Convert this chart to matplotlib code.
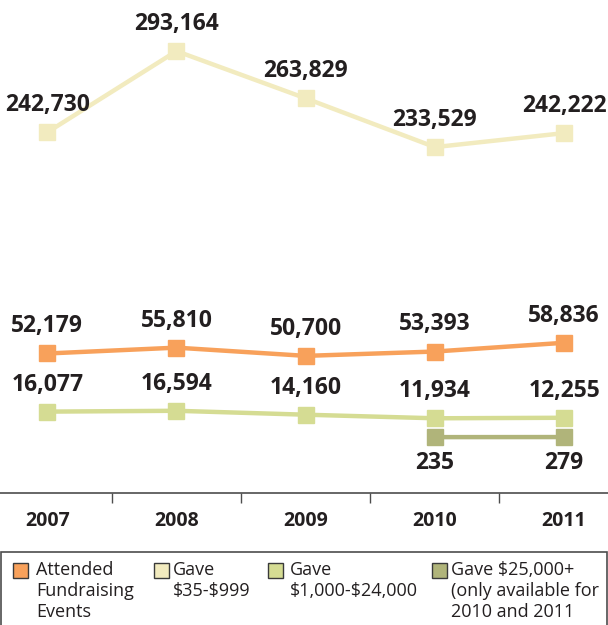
import matplotlib
matplotlib.use("Agg")
import matplotlib.pyplot as plt
from matplotlib.patches import Rectangle
import numpy as np

plt.rcParams['font.family'] = ['Open Sans', 'DejaVu Sans']

years = ['2007', '2008', '2009', '2010', '2011']
attended = [52179, 55810, 50700, 53393, 58836]
gave_small = [242730, 293164, 263829, 233529, 242222]
gave_mid = [16077, 16594, 14160, 11934, 12255]
gave_big = [235, 279]          # only 2010 and 2011
big_years = [3, 4]

orange = '#F8A15B'
cream = '#F2EBBF'
lgreen = '#D5DC93'
olive = '#B0B47A'
text_col = '#231F20'

# squeeze the empty band between ~70k and ~130k so the big series fits
A, B, GAP = 70000, 130000, 6835
SHIFT = B - A - GAP


def fwd(y):
    y = np.asarray(y, dtype=float)
    return np.where(y <= A, y, np.where(y >= B, y - SHIFT, A + (y - A) * GAP / (B - A)))


def inv(t):
    t = np.asarray(t, dtype=float)
    return np.where(t <= A, t, np.where(t >= A + GAP, t + SHIFT, A + (t - A) * (B - A) / GAP))


fig = plt.figure(figsize=(6.08, 6.25), dpi=100)
ax = fig.add_axes([0, 132 / 625, 1, 493 / 625])
ax.set_yscale('function', functions=(fwd, inv))
ax.set_ylim(-34472, 324904)
ax.set_xlim(-0.366, 4.340)

x = np.arange(len(years))
series = [(gave_small, cream), (attended, orange), (gave_mid, lgreen)]
for vals, col in series:
    ax.plot(x, vals, color=col, lw=3.2, marker='s', ms=12, mec=col, mfc=col,
            solid_capstyle='butt', zorder=3)
    for xi, v in zip(x, vals):
        ax.annotate(f"{v:,}", (xi, v), xytext=(0, 19.5), textcoords='offset points',
                    ha='center', va='center', fontsize=16.5, fontweight='bold',
                    color=text_col)

ax.plot(big_years, gave_big, color=olive, lw=3.2, marker='s', ms=12, mec=olive,
        mfc=olive, zorder=3)
for xi, v in zip(big_years, gave_big):
    ax.annotate(f"{v:,}", (xi, v), xytext=(0, -18.5), textcoords='offset points',
                ha='center', va='center', fontsize=16.5, fontweight='bold',
                color=text_col)

# axis: separators between years, labels under each year
for s in ['top', 'left', 'right']:
    ax.spines[s].set_visible(False)
ax.spines['bottom'].set_color('#4d4d4d')
ax.spines['bottom'].set_linewidth(1.2)
ax.yaxis.set_visible(False)
ax.set_xticks([0.5, 1.5, 2.5, 3.5])
ax.set_xticklabels([])
ax.set_xticks(x, minor=True)
ax.set_xticklabels(years, minor=True, fontsize=14, fontweight='bold', color=text_col)
ax.tick_params(axis='x', which='major', direction='out', length=7, width=1,
               color='#4d4d4d')
ax.tick_params(axis='x', which='minor', length=0, pad=13)

# legend box along the bottom
W, H = 608, 625
fig.patches.append(Rectangle((1 / W, -0.05), 606 / W, (H - 552) / H + 0.05,
                             transform=fig.transFigure, fill=False,
                             ec='#4d4d4d', lw=1.2))
entries = [
    (13, 36, orange, 'Attended\nFundraising\nEvents'),
    (154, 173, cream, 'Gave\n\\$35-\\$999'),
    (268, 290, lgreen, 'Gave\n\\$1,000-\\$24,000'),
    (432, 451, olive, 'Gave \\$25,000+\n(only available for\n2010 and 2011'),
]
for sx, tx, col, lab in entries:
    fig.patches.append(Rectangle((sx / W, (H - 578) / H), 15 / W, 15 / H,
                                 transform=fig.transFigure, fc=col,
                                 ec='#3a3a3a', lw=1))
    fig.text(tx / W, (H - 561) / H, lab, ha='left', va='top', fontsize=13,
             color=text_col, linespacing=1.2)

fig.savefig('out.png', dpi=100)
